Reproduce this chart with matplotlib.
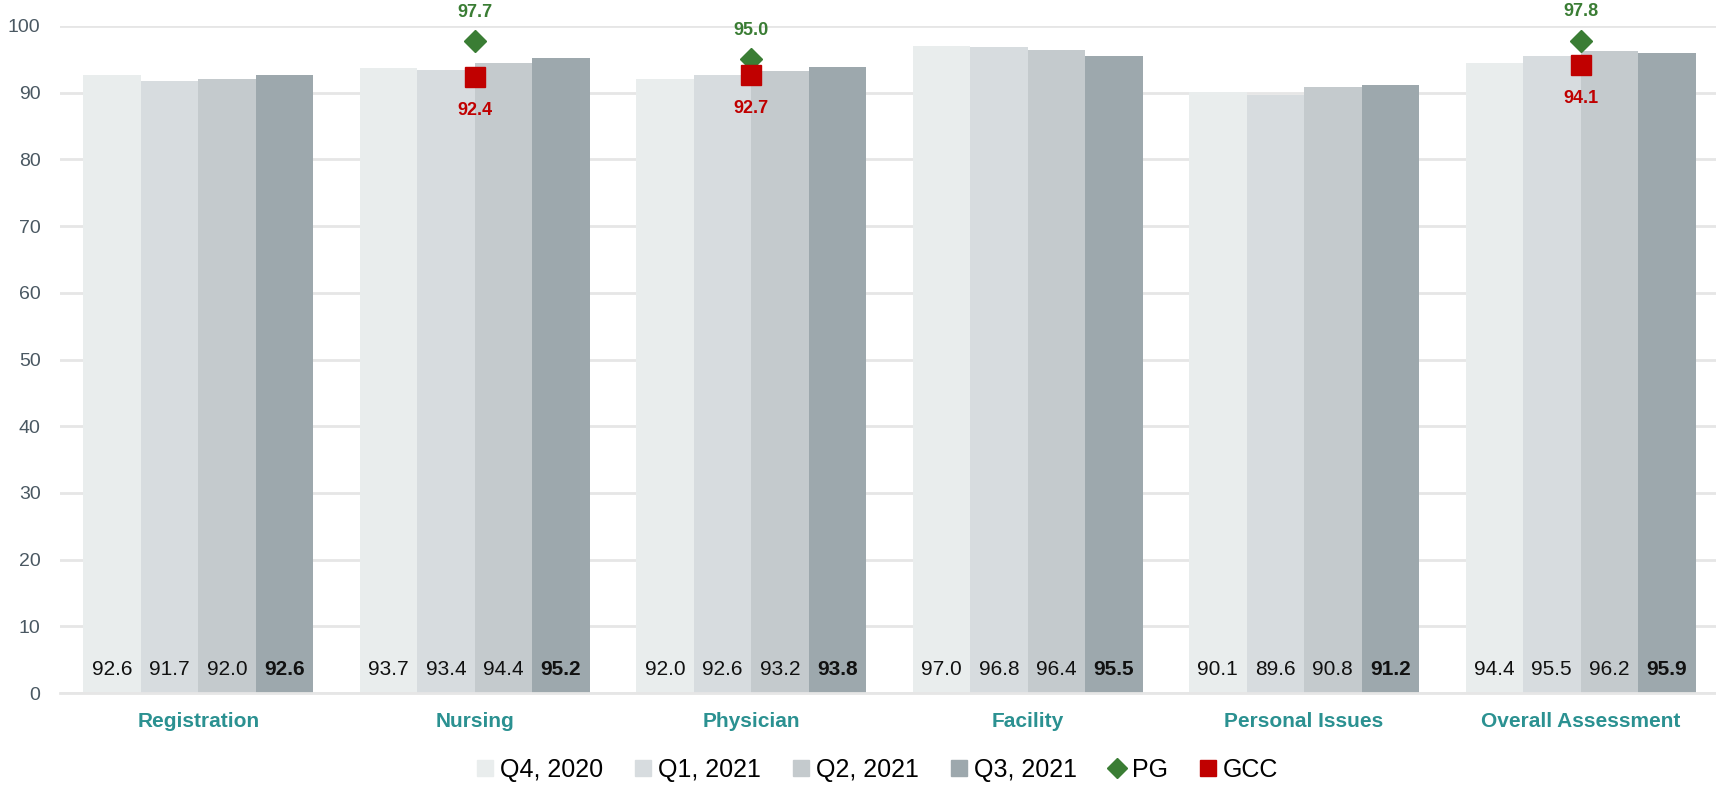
import matplotlib
matplotlib.use("Agg")
import matplotlib.pyplot as plt
from matplotlib.lines import Line2D
import numpy as np

plt.rcParams['font.family'] = ['Liberation Sans', 'DejaVu Sans']

categories = ["Registration", "Nursing", "Physician", "Facility", "Personal Issues", "Overall Assessment"]
series_names = ["Q4, 2020", "Q1, 2021", "Q2, 2021", "Q3, 2021"]
q4_2020 = [92.6, 93.7, 92.0, 97.0, 90.1, 94.4]
q1_2021 = [91.7, 93.4, 92.6, 96.8, 89.6, 95.5]
q2_2021 = [92.0, 94.4, 93.2, 96.4, 90.8, 96.2]
q3_2021 = [92.6, 95.2, 93.8, 95.5, 91.2, 95.9]
pg_values = [None, 97.7, 95.0, None, None, 97.8]
gcc_values = [None, 92.4, 92.7, None, None, 94.1]

bar_colors = ["#e9eded", "#d7dcdf", "#c4cacd", "#9da8ad"]
pg_color = "#3a7d34"
gcc_color = "#c00000"
cat_color = "#2b9191"

fig = plt.figure(figsize=(17.16, 7.85), dpi=100)
ax = fig.add_axes([60 / 1716, 92 / 785, 1656 / 1716, 667 / 785])

x = np.arange(len(categories))
bw = 0.208
series = [q4_2020, q1_2021, q2_2021, q3_2021]
for i, (vals, col) in enumerate(zip(series, bar_colors)):
    xs = x + (i - 1.5) * bw
    ax.bar(xs, vals, width=bw, color=col, zorder=2)
    for xi, v in zip(xs, vals):
        ax.text(xi, 3.5, f"{v:.1f}", ha="center", va="center", fontsize=15,
                fontweight="bold" if i == 3 else "normal", color="#111111", zorder=4)

for xi, pg, gcc in zip(x, pg_values, gcc_values):
    if pg is not None:
        ax.plot(xi, pg, marker="D", markersize=11, color=pg_color, zorder=5, linestyle="none")
        ax.annotate(f"{pg:.1f}", (xi, pg), xytext=(0, 21), textcoords="offset points",
                    ha="center", va="center", fontsize=13, fontweight="bold", color=pg_color)
    if gcc is not None:
        ax.plot(xi, gcc, marker="s", markersize=14, color=gcc_color, zorder=6, linestyle="none")
        ax.annotate(f"{gcc:.1f}", (xi, gcc), xytext=(0, -24), textcoords="offset points",
                    ha="center", va="center", fontsize=13, fontweight="bold", color=gcc_color)

ax.set_xlim(-0.5, 5.49)
ax.set_ylim(0, 100)
ax.set_yticks(np.arange(0, 101, 10))
ax.yaxis.grid(True, color="#e6e6e6", linewidth=2, zorder=0)
ax.set_axisbelow(True)
for s in ["top", "right", "left"]:
    ax.spines[s].set_visible(False)
ax.spines["bottom"].set_color("#e6e6e6")
ax.spines["bottom"].set_linewidth(2)
ax.tick_params(axis="y", length=0, pad=14, labelsize=14, labelcolor="#4a5862")
ax.tick_params(axis="x", length=0, pad=14)
ax.set_xticks(x)
ax.set_xticklabels(categories, fontsize=15, fontweight="bold", color=cat_color)

handles = [Line2D([], [], marker="s", linestyle="none", markersize=11, color=c) for c in bar_colors]
handles.append(Line2D([], [], marker="D", linestyle="none", markersize=10, color=pg_color))
handles.append(Line2D([], [], marker="s", linestyle="none", markersize=12, color=gcc_color))
labels = series_names + ["PG", "GCC"]
fig.legend(handles, labels, loc="center", bbox_to_anchor=(874 / 1716, 1 - 770 / 785),
           ncol=6, frameon=False, fontsize=18, handletextpad=0.0, columnspacing=1.0,
           handlelength=1.2)

fig.savefig("out.png", dpi=100)
